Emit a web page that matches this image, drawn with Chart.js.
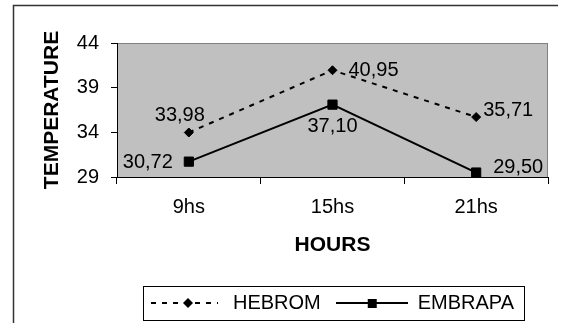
<!DOCTYPE html>
<html>
<head>
<meta charset="utf-8">
<title>Temperature by hour</title>
<script src="https://cdn.jsdelivr.net/npm/chart.js@4/dist/chart.umd.min.js"></script>
<style>
  html, body { margin: 0; padding: 0; background: #ffffff; }
  canvas { display: block; }
</style>
</head>
<body>
<canvas id="chart" width="566" height="323"></canvas>
<script>
// Readings per time of day
const hours = ['9hs', '15hs', '21hs'];
const hebrom = [33.98, 40.95, 35.71];
const embrapa = [30.72, 37.10, 29.50];
const seriesNames = ['HEBROM', 'EMBRAPA'];
const yTicks = [29, 34, 39, 44];

// Where each value label sits relative to its point
const hebromLabelPos = [
  { align: 'center', dx: -9, dy: -17 },
  { align: 'left', dx: 16, dy: 0 },
  { align: 'left', dx: 7, dy: -7 }
];
const embrapaLabelPos = [
  { align: 'right', dx: -16, dy: 1 },
  { align: 'center', dx: 0, dy: 22 },
  { align: 'left', dx: 17, dy: -5 }
];

const FONT = '"Liberation Sans", Arial, sans-serif';

// Legend samples: a short line with the series marker on it
function makeSample(dashed, marker) {
  const c = document.createElement('canvas');
  c.width = 72; c.height = 14;
  const g = c.getContext('2d');
  g.strokeStyle = '#000'; g.fillStyle = '#000'; g.lineWidth = 2;
  g.setLineDash(dashed ? [5, 6] : []);
  g.beginPath(); g.moveTo(0, 7); g.lineTo(dashed ? 67 : 72, 7); g.stroke();
  g.setLineDash([]);
  if (marker === 'diamond') {
    g.beginPath();
    g.moveTo(37, 2); g.lineTo(42, 7); g.lineTo(37, 12); g.lineTo(32, 7);
    g.closePath(); g.fill();
  } else {
    g.fillRect(32, 3, 9, 9);
  }
  return c;
}
const legendSamples = [makeSample(true, 'diamond'), makeSample(false, 'square')];

const fmt = v => v.toFixed(2).replace('.', ',');

const framePlugin = {
  id: 'frame',
  beforeDraw(chart) {
    const { ctx, chartArea: a } = chart;
    ctx.save();
    // outer frame
    ctx.strokeStyle = '#333';
    ctx.lineWidth = 1.5;
    ctx.beginPath();
    ctx.moveTo(13.5, 323); ctx.lineTo(13.5, 5.5); ctx.lineTo(558, 5.5);
    ctx.stroke();
    // plot area
    ctx.fillStyle = '#c0c0c0';
    ctx.fillRect(a.left, a.top, a.right - a.left, a.bottom - a.top);
    ctx.strokeStyle = '#808080';
    ctx.lineWidth = 1;
    ctx.strokeRect(a.left + 0.5, a.top + 0.5, a.right - a.left - 1, a.bottom - a.top);
    ctx.restore();
  },
  afterDraw(chart) {
    const hb = chart.legend && chart.legend.legendHitBoxes;
    if (!hb || !hb.length) return;
    const { ctx } = chart;
    const last = hb[hb.length - 1];
    const left = Math.round(hb[0].left - 8) + 0.5;
    const right = Math.round(last.left + last.width + 10) + 0.5;
    const cy = hb[0].top + hb[0].height / 2;
    const top = Math.round(cy - 17) + 0.5;
    const bottom = Math.round(cy + 17) + 0.5;
    ctx.save();
    ctx.strokeStyle = '#000';
    ctx.lineWidth = 1;
    ctx.strokeRect(left, top, right - left, bottom - top);
    ctx.restore();
  }
};

const valueLabels = {
  id: 'valueLabels',
  afterDatasetsDraw(chart) {
    const { ctx } = chart;
    const placements = [hebromLabelPos, embrapaLabelPos];
    ctx.save();
    ctx.font = '20px ' + FONT;
    ctx.fillStyle = '#000';
    ctx.textBaseline = 'middle';
    chart.data.datasets.forEach((ds, i) => {
      const meta = chart.getDatasetMeta(i);
      meta.data.forEach((pt, j) => {
        const p = placements[i][j];
        ctx.textAlign = p.align;
        ctx.fillText(fmt(ds.data[j]), pt.x + p.dx, pt.y + p.dy);
      });
    });
    ctx.restore();
  }
};

new Chart(document.getElementById('chart'), {
  type: 'line',
  data: {
    labels: hours,
    datasets: [
      {
        label: seriesNames[0],
        data: hebrom,
        borderColor: '#000',
        borderWidth: 2,
        borderDash: [5, 6],
        pointStyle: 'rectRot',
        pointRadius: 4.5,
        pointBorderWidth: 1,
        pointBackgroundColor: '#000',
        pointBorderColor: '#000',
        tension: 0,
        fill: false
      },
      {
        label: seriesNames[1],
        data: embrapa,
        borderColor: '#000',
        borderWidth: 2,
        pointStyle: 'rect',
        pointRadius: 6.5,
        pointBorderWidth: 1,
        pointBackgroundColor: '#000',
        pointBorderColor: '#000',
        tension: 0,
        fill: false
      }
    ]
  },
  options: {
    responsive: false,
    animation: false,
    layout: { padding: { top: 43, right: 18, bottom: 0, left: 14 } },
    scales: {
      x: {
        type: 'category',
        offset: true,
        grid: { offset: true, drawOnChartArea: false, drawTicks: true, tickLength: 7, color: '#000' },
        border: { display: true, color: '#000', width: 1 },
        ticks: { color: '#000', font: { family: FONT, size: 20 }, padding: 11, maxRotation: 0 },
        title: { display: true, text: 'HOURS', color: '#000', font: { family: FONT, size: 21, weight: 'bold' }, padding: { top: 4, bottom: 20 } },
        afterFit(scale) { scale.height = 101; }
      },
      y: {
        min: yTicks[0],
        max: yTicks[yTicks.length - 1],
        afterBuildTicks(scale) { scale.ticks = yTicks.map(v => ({ value: v })); },
        grid: { drawOnChartArea: false, drawTicks: true, tickLength: 6, color: '#000' },
        border: { display: true, color: '#000', width: 1 },
        ticks: { color: '#000', font: { family: FONT, size: 20 }, padding: 12 },
        title: { display: true, text: 'TEMPERATURE', color: '#000', font: { family: FONT, size: 21, weight: 'bold' }, padding: { top: 26, bottom: 0 } },
        afterFit(scale) { scale.width = 103; }
      }
    },
    plugins: {
      legend: {
        position: 'bottom',
        fullSize: false,
        align: 'center',
        labels: {
          usePointStyle: true,
          pointStyleWidth: 72,
          padding: 15,
          color: '#000',
          font: { family: FONT, size: 20 },
          generateLabels(chart) {
            return chart.data.datasets.map((ds, i) => ({
              text: ds.label,
              datasetIndex: i,
              pointStyle: legendSamples[i],
              fillStyle: 'transparent',
              strokeStyle: 'transparent',
              lineWidth: 0,
              fontColor: '#000',
              hidden: false
            }));
          }
        }
      },
      tooltip: { enabled: false }
    }
  },
  plugins: [framePlugin, valueLabels]
});
</script>
</body>
</html>
